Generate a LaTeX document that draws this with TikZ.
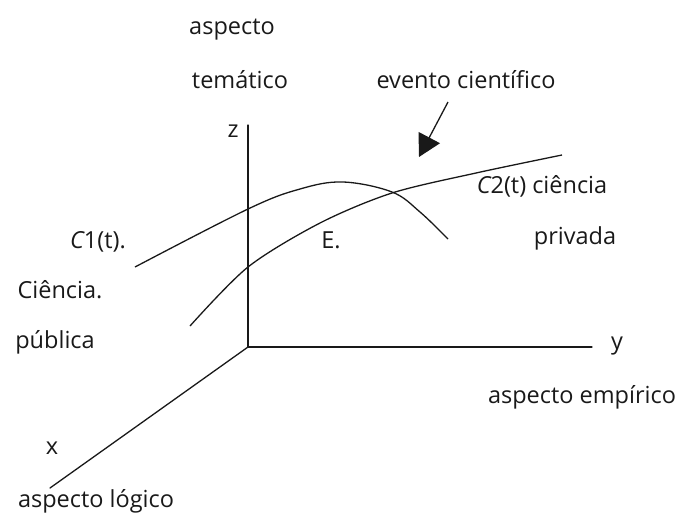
\documentclass[tikz,border=0pt]{standalone}
\usepackage{fontspec}
\setmainfont{Open Sans}
\usetikzlibrary{arrows.meta,calc}
\usepackage{tkz-euclide}
\definecolor{AxisClr}{rgb}{0.1,0.1,0.1}

\begin{document}
\begin{tikzpicture}[x=1pt,y=-1pt,
  lbl/.style={font=\fontsize{23.5}{27}\selectfont,inner sep=0pt,text=AxisClr},
  curve/.style={line width=1.3pt,color=AxisClr}]
\useasboundingbox (0,0) rectangle (683,515);
\tkzSetUpLine[line width=1.3pt,color=AxisClr]

\tkzDefPoints{248/347/O,248/125/Z,592/347/Y,50/488/X}
\tkzDefPoints{448/102/T,419/157/H}

% axes
\tkzDrawSegments(O,Z O,Y O,X)

% the two curves
\draw[curve] plot[smooth,tension=0.6] coordinates {(135,267) (248,209) (300,189) (343,182) (392,192) (420,212) (448,239)};
\draw[curve] plot[smooth,tension=0.5] coordinates {(190,326) (248,267) (320,223) (392,193) (476,173) (562,155)};

% arrow to the event
\draw[line width=1.3pt,color=AxisClr,-{Triangle[length=22pt,width=24pt]}] (T) -- (H);

\node[lbl] (asp)  at (232,30)  {aspecto};
\node[lbl] (tem)  at (240,80)  {temático};
\node[lbl] (z)    at (233,131) {z};
\node[lbl] (ev)   at (466,80)  {evento científico};
\node[lbl] (c1)   at (98,242)  {{\itshape C}1(t).};
\node[lbl] (cie)  at (60,290)  {Ciência.};
\node[lbl] (pub)  at (55,342)  {pública};
\node[lbl] (e)    at (331,240) {E.};
\node[lbl] (c2)   at (542,186) {{\itshape C}2(t) ciência};
\node[lbl] (priv) at (575,238) {privada};
\node[lbl] (y)    at (617,346) {y};
\node[lbl] (emp)  at (582,397) {aspecto empírico};
\node[lbl] (x)    at (52,448)  {x};
\node[lbl] (log)  at (96,501)  {aspecto lógico};
\end{tikzpicture}
\end{document}
